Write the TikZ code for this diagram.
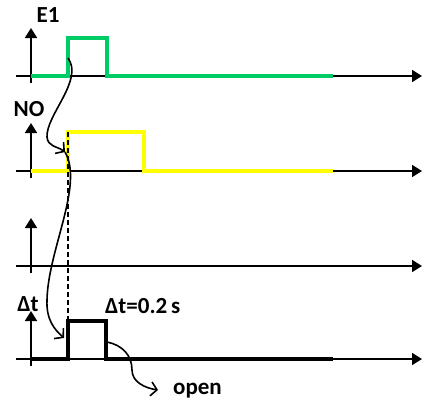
\documentclass[tikz,border=0pt]{standalone}
\usepackage{fontspec}
\setmainfont{Carlito}
\usetikzlibrary{arrows.meta}
\definecolor{siggreen}{RGB}{0,204,102}
\definecolor{sigyellow}{RGB}{255,255,0}
\begin{document}
\begin{tikzpicture}[x=1pt,y=-1pt,
	axis/.style={line width=1.8pt,-{Triangle[length=10pt,width=12pt]}},
	sig/.style={line width=3.4pt,line join=miter},
	curvearrow/.style={line width=1.6pt,-{Straight Barb[length=6pt,width=14pt]}},
	lbl/.style={font=\bfseries\fontsize{23}{23}\selectfont,inner sep=0pt}]
\useasboundingbox (0,0) rectangle (424,405);
% time axes
\foreach \y/\n in {76/a,171/b,266/c,359/d} {
	\coordinate (\n0) at (16,\y);
	\coordinate (\n1) at (422,\y);
	\coordinate (\n2) at (31,\y+7);
	\coordinate (\n3) at (31,\y-48);
	\draw [axis] (\n0) -- (\n1);
	\draw [axis] (\n2) -- (\n3);
}
% signals
\draw [sig,siggreen] (31,76) -- (68,76) -- (68,38) -- (107,38) -- (107,76) -- (333,76);
\draw [sig,sigyellow] (31,171) -- (68,171) -- (68,132) -- (144,132) -- (144,171) -- (333,171);
\draw [sig,black] (31,359) -- (68,359) -- (68,321) -- (106,321) -- (106,359) -- (333,359);
\coordinate (top) at (68,132);
\coordinate (bot) at (68,359);
\draw [line width=1.4pt,dash pattern=on 5pt off 3pt] (top) -- (bot);
% labels
\node [lbl] (e1) at (48,15) {E1};
\node [lbl] (no) at (29,109) {NO};
\node [lbl] (dt) at (28,304) {Δt};
\node [lbl,anchor=west] (dtval) at (105,306) {Δt=0.2\,s};
\node [lbl,anchor=west] (open) at (173,391) {open};
% causal arrows
\coordinate (c1) at (68,58);
\coordinate (c2) at (65,152);
\coordinate (c3) at (64,338);
\coordinate (c4) at (107,342);
\coordinate (c5) at (158,390);
\draw [curvearrow] (c1) .. controls (84,80) and (46,115) .. (47,137) .. controls (48,147) and (57,146) .. (c2);
\draw [line width=1.6pt] (c2) .. controls (84,185) and (48,250) .. (47,300);
\draw [curvearrow] (47,300) .. controls (46,320) and (55,330) .. (c3);
\draw [curvearrow] (c4) .. controls (122,345) and (132,355) .. (132,370) .. controls (132,382) and (145,388) .. (c5);
\end{tikzpicture}
\end{document}
